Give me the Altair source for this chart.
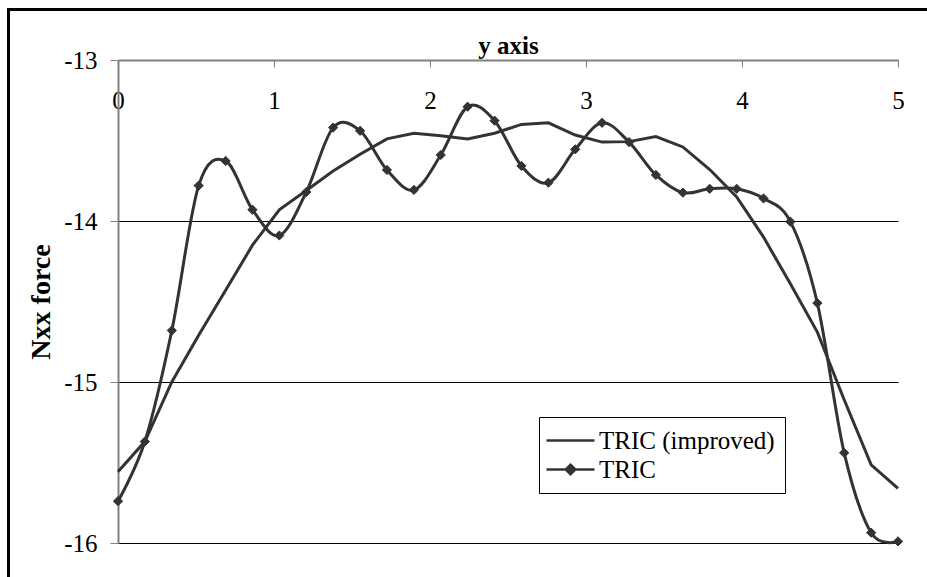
import altair as alt
import pandas as pd

# x positions along the y axis (data values)
x_vals = [0.0, 0.172, 0.345, 0.517, 0.690, 0.862, 1.034, 1.207, 1.379, 1.552,
          1.724, 1.897, 2.069, 2.241, 2.414, 2.586, 2.759, 2.931, 3.103, 3.276,
          3.448, 3.621, 3.793, 3.966, 4.138, 4.310, 4.483, 4.655, 4.828, 5.0]

tric = [-15.74, -15.37, -14.68, -13.78, -13.627, -13.93, -14.09, -13.82, -13.42, -13.44,
        -13.683, -13.807, -13.59, -13.29, -13.377, -13.658, -13.762, -13.555, -13.39, -13.51,
        -13.714, -13.824, -13.80, -13.80, -13.86, -14.004, -14.51, -15.44, -15.936, -15.99]

improved = [-15.557, -15.37, -15.0, -14.71, -14.43, -14.15, -13.93, -13.81, -13.69, -13.585,
            -13.49, -13.455, -13.47, -13.49, -13.455, -13.40, -13.39, -13.466, -13.51, -13.507,
            -13.476, -13.54, -13.68, -13.85, -14.10, -14.39, -14.69, -15.11, -15.515, -15.66]

series_names = ["TRIC (improved)", "TRIC"]
x_ticks = [0, 1, 2, 3, 4, 5]
y_ticks = [-16, -15, -14, -13]

df = pd.DataFrame({
    "x": x_vals + x_vals,
    "v": improved + tric,
    "series": [series_names[0]] * len(x_vals) + [series_names[1]] * len(x_vals),
})

FONT = "Liberation Serif"
INK = "#333333"

x_enc = alt.X("x:Q", scale=alt.Scale(domain=[0, 5], nice=False, zero=False),
              axis=alt.Axis(orient="bottom", offset=-483, values=x_ticks,
                            labelExpr="'' + datum.value",
                            title="y axis", titleFont=FONT, titleFontSize=25,
                            titleFontWeight="bold", titleColor="black",
                            titleY=-7, titleX=390, titleBaseline="alphabetic",
                            labelFont=FONT, labelFontSize=25, labelColor="black",
                            labelPadding=21, labelFlush=False, labelOverlap=False,
                            tickSize=7, tickColor="#808080", tickWidth=1,
                            domainColor="#808080", domainWidth=2, grid=False))
y_enc = alt.Y("v:Q", scale=alt.Scale(domain=[-16, -13], nice=False, zero=False),
              axis=alt.Axis(orient="left", values=y_ticks,
                            labelExpr="'' + datum.value",
                            title="Nxx force", titleFont=FONT, titleFontSize=28,
                            titleFontWeight="bold", titleColor="black",
                            titleX=-77, titleBaseline="middle",
                            labelFont=FONT, labelFontSize=25, labelColor="black",
                            labelPadding=13, labelFlush=False, labelOverlap=False,
                            tickSize=8, tickColor="#808080", tickWidth=1,
                            domainColor="#808080", domainWidth=2,
                            grid=True, gridColor="black", gridWidth=1))

base = alt.Chart(df)

line_improved = base.transform_filter(
    alt.datum.series == series_names[0]
).mark_line(color=INK, strokeWidth=3, interpolate="linear").encode(x=x_enc, y=y_enc)

line_tric = base.transform_filter(
    alt.datum.series == series_names[1]
).mark_line(color=INK, strokeWidth=3, interpolate="cardinal").encode(x="x:Q", y="v:Q")

pts_tric = base.transform_filter(
    alt.datum.series == series_names[1]
).mark_point(shape="diamond", filled=True, color=INK, size=85, opacity=1,
             stroke=INK, strokeWidth=1).encode(x="x:Q", y="v:Q")

# legend glyphs: a line, and a line with a (stroke-filled) diamond
path_line = "M-2,0L2,0"
path_diamond = ("M-2,0L2,0"
                "M0,-0.4L0.4,0L0,0.4L-0.4,0Z"
                "M0,-0.25L0.25,0L0,0.25L-0.25,0Z"
                "M0,-0.1L0.1,0L0,0.1L-0.1,0Z")

legend_layer = base.transform_filter("false").mark_point(
    filled=False, color=INK, strokeWidth=2.5
).encode(
    x="x:Q", y="v:Q",
    shape=alt.Shape("series:N",
                    scale=alt.Scale(domain=series_names, range=[path_line, path_diamond]),
                    legend=alt.Legend(orient="none", legendX=421, legendY=357,
                                      title=None, symbolSize=576,
                                      symbolStrokeWidth=2.5, symbolStrokeColor=INK,
                                      symbolOpacity=1,
                                      labelFont=FONT, labelFontSize=25, labelColor="black",
                                      labelLimit=400,
                                      labelOffset=15, symbolOffset=8,
                                      padding=10, rowPadding=2,
                                      strokeColor="black",
                                      fillColor="white")),
)

# outer frame of the picture (only its top and left edges are inside the image)
frame_df = pd.DataFrame({"a": [0]})
frame_top = alt.Chart(frame_df).mark_rule(color="black", strokeWidth=3).encode(
    x=alt.value(-110), x2=alt.value(840), y=alt.value(-50.5))
frame_left = alt.Chart(frame_df).mark_rule(color="black", strokeWidth=3).encode(
    x=alt.value(-109.5), y=alt.value(-52), y2=alt.value(560))

chart = alt.layer(
    line_improved, line_tric, pts_tric, legend_layer, frame_top, frame_left
).properties(
    width=780, height=483,
    autosize=alt.AutoSizeParams(type="none"),
    padding={"left": 118, "top": 60, "right": 29, "bottom": 34},
    background="white",
).configure_view(stroke=None).configure_legend(strokeWidth=1)

chart.save("out.html", embed_options={"renderer": "svg", "actions": False})
